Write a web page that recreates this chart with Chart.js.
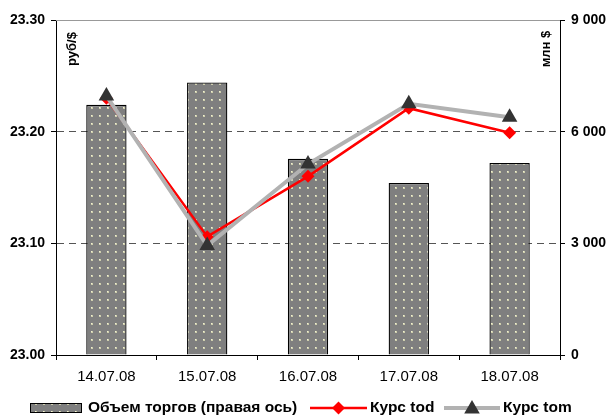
<!DOCTYPE html>
<html>
<head>
<meta charset="utf-8">
<script src="https://cdn.jsdelivr.net/npm/chart.js@4"></script>
<style>
    html, body { margin: 0; padding: 0; background: #fff; }
    #wrap { width: 611px; height: 419px; position: relative; }
</style>
</head>
<body>
<div id="wrap"><canvas id="chart"></canvas></div>
<script>
// ===== Data =====
const dates = ['14.07.08', '15.07.08', '16.07.08', '17.07.08', '18.07.08'];
const volume = [6720, 7320, 5270, 4620, 5160];
const kursTod = [23.230, 23.106, 23.160, 23.221, 23.199];
const kursTom = [23.232, 23.098, 23.171, 23.225, 23.213];
const rateTicks = [23.00, 23.10, 23.20, 23.30];
const volumeTicks = [0, 3000, 6000, 9000];
const seriesNames = ['Объем торгов (правая ось)', 'Курс tod', 'Курс tom'];
const unitLeft = 'руб/$';
const unitRight = 'млн $';

const FONT = '"Liberation Sans", Arial, sans-serif';

// grey fill with small light dots, like the Excel pattern
function dotPattern() {
    const p = document.createElement('canvas');
    p.width = 8; p.height = 8;
    const g = p.getContext('2d');
    g.fillStyle = '#7f7f7f';
    g.fillRect(0, 0, 8, 8);
    g.fillStyle = '#cfcfae';
    g.fillRect(3, 3, 2, 2);
    g.fillStyle = '#f2f2d2';
    g.fillRect(3, 3, 1, 1);
    return g.createPattern(p, 'repeat');
}
const barFill = dotPattern();

function fmtSpace(v) {
    return String(v).replace(/\B(?=(\d{3})+(?!\d))/g, ' ');
}

function diamond(ctx, x, y, r, color) {
    ctx.beginPath();
    ctx.moveTo(x - r, y); ctx.lineTo(x, y - r); ctx.lineTo(x + r, y); ctx.lineTo(x, y + r);
    ctx.closePath();
    ctx.fillStyle = color; ctx.fill();
}
function triangle(ctx, x, y, r, color) {
    ctx.beginPath();
    ctx.moveTo(x, y - r);
    ctx.lineTo(x + r * 0.866, y + r * 0.5);
    ctx.lineTo(x - r * 0.866, y + r * 0.5);
    ctx.closePath();
    ctx.fillStyle = color; ctx.fill();
}

// top border, unit labels and the legend at the bottom
const extras = {
    id: 'extras',
    beforeDatasetsDraw(chart) {
        const { ctx, chartArea: a } = chart;
        ctx.save();
        ctx.strokeStyle = '#999';
        ctx.lineWidth = 1;
        ctx.beginPath();
        ctx.moveTo(a.left, a.top + 0.5);
        ctx.lineTo(a.right, a.top + 0.5);
        ctx.stroke();
        ctx.restore();
    },
    afterDraw(chart) {
        const { ctx, chartArea: a } = chart;
        ctx.save();
        ctx.fillStyle = '#000';
        ctx.font = 'bold 13px ' + FONT;
        ctx.textAlign = 'center';
        ctx.textBaseline = 'middle';
        [[a.left + 16, unitLeft], [a.right - 14, unitRight]].forEach(([x, t]) => {
            ctx.save();
            ctx.translate(x, a.top + 29);
            ctx.rotate(-Math.PI / 2);
            ctx.fillText(t, 0, 0);
            ctx.restore();
        });

        // legend
        const ly = 408;
        ctx.font = 'bold 15.5px ' + FONT;
        ctx.textAlign = 'left';
        ctx.fillStyle = barFill;
        ctx.fillRect(30, ly - 5, 52, 10);
        ctx.strokeStyle = '#000';
        ctx.lineWidth = 1;
        ctx.strokeRect(30.5, ly - 4.5, 51, 9);
        ctx.fillStyle = '#000';
        ctx.fillText(seriesNames[0], 88, ly);

        ctx.strokeStyle = '#ff0000';
        ctx.lineWidth = 2.5;
        ctx.beginPath(); ctx.moveTo(310, ly); ctx.lineTo(367, ly); ctx.stroke();
        diamond(ctx, 338.5, ly, 6.5, '#ff0000');
        ctx.fillStyle = '#000';
        ctx.fillText(seriesNames[1], 370, ly);

        ctx.strokeStyle = '#b2b2b2';
        ctx.lineWidth = 4;
        ctx.beginPath(); ctx.moveTo(444, ly); ctx.lineTo(500, ly); ctx.stroke();
        triangle(ctx, 472, ly + 1, 9, '#333');
        ctx.fillStyle = '#000';
        ctx.fillText(seriesNames[2], 503, ly);
        ctx.restore();
    }
};

new Chart(document.getElementById('chart'), {
    data: {
        labels: dates,
        datasets: [
            { type: 'bar', label: seriesNames[0], data: volume, yAxisID: 'y1', order: 3,
              backgroundColor: barFill, borderColor: '#000', borderWidth: 1.3,
              barPercentage: 0.4, categoryPercentage: 1 },
            { type: 'line', label: seriesNames[1], data: kursTod, yAxisID: 'y', order: 2,
              borderColor: '#ff0000', borderWidth: 2.5, tension: 0,
              pointStyle: 'rectRot', pointRadius: 6.5, pointBackgroundColor: '#ff0000',
              pointBorderColor: '#ff0000', pointBorderWidth: 0 },
            { type: 'line', label: seriesNames[2], data: kursTom, yAxisID: 'y', order: 1,
              borderColor: '#b2b2b2', borderWidth: 4, tension: 0,
              pointStyle: 'triangle', pointRadius: 9, pointBackgroundColor: '#333',
              pointBorderColor: '#333', pointBorderWidth: 0 }
        ]
    },
    options: {
        responsive: true, maintainAspectRatio: false, animation: false,
        layout: { padding: { top: 20, bottom: 29, left: 0, right: 0 } },
        plugins: { legend: { display: false }, tooltip: { enabled: false } },
        scales: {
            x: {
                offset: true,
                grid: { drawOnChartArea: false, offset: true, tickLength: 5, color: '#000' },
                border: { color: '#000', width: 1 },
                ticks: { color: '#000', font: { family: FONT, size: 15 }, padding: 8, maxRotation: 0 },
                afterFit: s => { s.height = 35; }
            },
            y: {
                position: 'left', min: 23.0, max: 23.3,
                afterBuildTicks: s => { s.ticks = rateTicks.map(v => ({ value: v })); },
                grid: {
                    color: c => (c.index === 1 || c.index === 2) ? '#555' : 'rgba(0,0,0,0)',
                    tickColor: '#000', tickLength: 5, lineWidth: 1
                },
                border: { color: '#000', width: 1, dash: [7, 5] },
                ticks: { color: '#000', font: { family: FONT, size: 14, weight: 'bold' }, padding: 6,
                         callback: v => Number(v).toFixed(2) },
                afterFit: s => { s.width = 56; }
            },
            y1: {
                position: 'right', min: 0, max: 9000,
                afterBuildTicks: s => { s.ticks = volumeTicks.map(v => ({ value: v })); },
                grid: { drawOnChartArea: false, tickColor: '#000', tickLength: 5 },
                border: { color: '#000', width: 1 },
                ticks: { color: '#000', font: { family: FONT, size: 14, weight: 'bold' }, padding: 6,
                         callback: v => fmtSpace(v) },
                afterFit: s => { s.width = 51; }
            }
        }
    },
    plugins: [extras]
});
</script>
</body>
</html>
